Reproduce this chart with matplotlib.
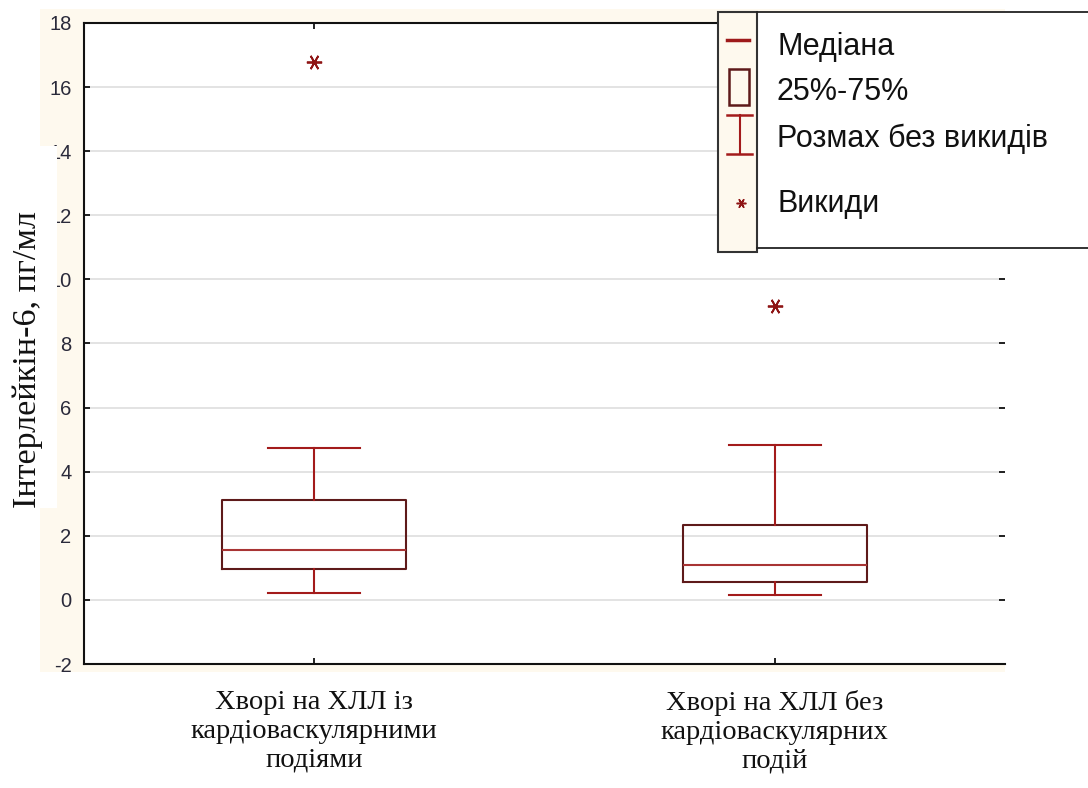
import matplotlib
matplotlib.use('Agg')
import matplotlib.pyplot as plt
from matplotlib.patches import Rectangle
from matplotlib.lines import Line2D

# ---- data ----
groups = ["Хворі на ХЛЛ із\nкардіоваскулярними\nподіями",
          "Хворі на ХЛЛ без\nкардіоваскулярних\nподій"]
medians = [1.57, 1.09]
q1 = [0.97, 0.57]
q3 = [3.11, 2.34]
whislo = [0.23, 0.16]
whishi = [4.74, 4.84]
outliers = [[16.79], [9.17]]
yticks = [-2, 0, 2, 4, 6, 8, 10, 12, 14, 16, 18]
ylabel = "Інтерлейкін-6, пг/мл"
legend_labels = ["Медіана", "25%-75%", "Розмах без викидів", "Викиди"]

# ---- style ----
W, H = 1088, 788
CREAM = '#fef9ee'
BOX_C = '#5e1a1a'
WHIS_C = '#a31b1b'
FLIER_C = '#8e1414'

fig = plt.figure(figsize=(W / 100, H / 100), dpi=100)
fig.patch.set_facecolor('white')


def fx(px):
    return px / W


def fy(py):
    return 1 - py / H


# cream background area
fig.add_artist(Rectangle((fx(40), fy(672)), fx(1005) - fx(40), fy(9) - fy(672),
                         transform=fig.transFigure, facecolor=CREAM,
                         edgecolor='none', zorder=-10))

ax = fig.add_axes([fx(84), fy(664), fx(1005) - fx(84), fy(23) - fy(664)])
ax.set_facecolor('white')

stats = []
for i in range(len(groups)):
    stats.append(dict(med=medians[i], q1=q1[i], q3=q3[i],
                      whislo=whislo[i], whishi=whishi[i],
                      fliers=outliers[i], label=groups[i]))

ax.bxp(stats, positions=[1, 2], widths=0.4, capwidths=0.2, showfliers=True,
       boxprops=dict(color=BOX_C, linewidth=1.5),
       whiskerprops=dict(color=WHIS_C, linewidth=1.5),
       capprops=dict(color=WHIS_C, linewidth=1.5),
       medianprops=dict(color='#a83434', linewidth=1.5),
       flierprops=dict(marker=(6, 2, 90), markersize=11,
                       markeredgecolor=FLIER_C, markeredgewidth=1.3,
                       linestyle='none'))

ax.set_xlim(0.5, 2.5)
ax.set_ylim(-2, 18)
ax.set_yticks(yticks)
ax.set_yticklabels([str(v) for v in yticks], family='Liberation Sans',
                   fontsize=14.5, color='#2a2a3a')
ax.set_xticks([1, 2])
ax.set_xticklabels(groups, family='Liberation Serif', fontsize=20.5,
                   linespacing=1.2, color='#111111')
ax.grid(axis='y', color='#dedede', linewidth=1.2)
ax.set_axisbelow(True)
ax.spines['right'].set_visible(False)
for s in ['left', 'top', 'bottom']:
    ax.spines[s].set_linewidth(1.5)
    ax.spines[s].set_color('#111111')
ax.tick_params(axis='both', direction='in', length=4, width=1.3,
               top=True, right=True, color='#111111')
ax.tick_params(axis='y', pad=9)
ax.tick_params(axis='x', pad=19)

# white box behind y label (covers parts of tick labels as in the source)
fig.add_artist(Rectangle((0, fy(508)), fx(57), fy(146) - fy(508),
                         transform=fig.transFigure, facecolor='white',
                         edgecolor='none', zorder=1))
fig.text(fx(28), fy(359), ylabel, rotation=90, ha='center', va='center',
         family='Liberation Serif', fontsize=24.5, color='#111111', zorder=2)

# ---- legend ----
lax = fig.add_axes([fx(712), fy(256), fx(1088) - fx(712), fy(8) - fy(256)])
lax.set_xlim(712, 1088)
lax.set_ylim(256, 8)
lax.axis('off')
lax.set_zorder(5)
lax.add_patch(Rectangle((757, 12), 340, 236, facecolor='white',
                        edgecolor='none', clip_on=False))
lax.add_line(Line2D([757, 1090], [12, 12], color='#222222', lw=1.3, clip_on=False))
lax.add_line(Line2D([757, 1090], [248, 248], color='#222222', lw=1.3, clip_on=False))
lax.add_patch(Rectangle((718, 12), 39, 240, facecolor=CREAM,
                        edgecolor='#333333', lw=1.5))
# icons
lax.add_line(Line2D([727, 749], [40, 40], color='#9e1a1a', lw=2.5))
lax.add_patch(Rectangle((729, 69), 20, 36, facecolor='none',
                        edgecolor=BOX_C, lw=1.8))
lax.add_line(Line2D([727, 752], [115, 115], color=WHIS_C, lw=1.8))
lax.add_line(Line2D([727, 752], [154, 154], color=WHIS_C, lw=1.8))
lax.add_line(Line2D([739.5, 739.5], [115, 154], color=WHIS_C, lw=1.5))
lax.plot([741], [203], marker=(6, 2, 90), markersize=7,
         markeredgecolor=FLIER_C, markeredgewidth=1.1, linestyle='none')
# texts
baselines = [55, 100, 147, 212]
for lab, b in zip(legend_labels, baselines):
    lax.text(777, b, lab, ha='left', va='baseline', family='Liberation Sans',
             fontsize=22, color='#111111')

fig.savefig('out.png', dpi=100, facecolor='white')
